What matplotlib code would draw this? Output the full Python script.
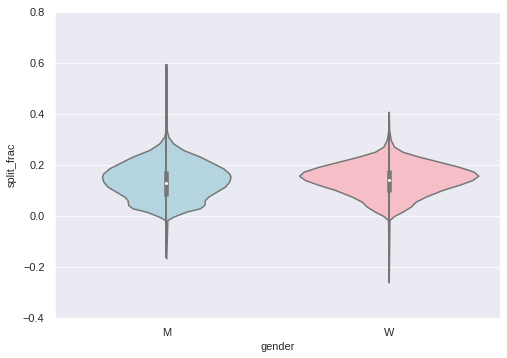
import numpy as np
import matplotlib
matplotlib.use("Agg")
import matplotlib.pyplot as plt
import seaborn as sns

# categories and colors
genders = ["M", "W"]
palette = ["lightblue", "lightpink"]

# violin outline: split_frac value -> half width (data units)
m_vals = [0.596, 0.337, 0.311, 0.285, 0.259, 0.233, 0.207, 0.187, 0.167, 0.154,
          0.135, 0.115, 0.095, 0.076, 0.063, 0.043, 0.030, 0.017, -0.003, -0.016, -0.166]
m_half = [0.0, 0.002, 0.009, 0.031, 0.076, 0.151, 0.211, 0.256, 0.283, 0.289,
          0.283, 0.264, 0.225, 0.189, 0.174, 0.171, 0.151, 0.090, 0.031, 0.005, 0.0]

w_vals = [0.409, 0.337, 0.298, 0.272, 0.252, 0.233, 0.213, 0.193, 0.174, 0.158,
          0.141, 0.122, 0.102, 0.076, 0.056, 0.037, 0.017, 0.000, -0.016, -0.260]
w_half = [0.0, 0.002, 0.009, 0.024, 0.062, 0.135, 0.225, 0.315, 0.382, 0.403,
          0.376, 0.315, 0.241, 0.166, 0.121, 0.099, 0.062, 0.024, 0.003, 0.0]

# inner box: whisker low, q1, median, q3, whisker high
m_box = [-0.166, 0.078, 0.130, 0.176, 0.596]
w_box = [-0.260, 0.095, 0.140, 0.180, 0.409]

sns.set_style("darkgrid")
plt.rcParams["font.family"] = ["Liberation Sans", "DejaVu Sans"]

fig = plt.figure(figsize=(507 / 72, 358 / 72), dpi=72)
ax = fig.add_axes([55 / 507, 40 / 358, 445 / 507, 306 / 358])

gray = "#767676"
outlines = [(m_vals, m_half), (w_vals, w_half)]
boxes = [m_box, w_box]
for i in range(len(genders)):
    vals, half = outlines[i]
    vals = np.array(vals)
    half = np.array(half)
    ax.fill_betweenx(vals, i - half, i + half,
                     facecolor=sns.desaturate(palette[i], 0.75),
                     edgecolor=gray, linewidth=1.5, zorder=2)
    lo, q1, med, q3, hi = boxes[i]
    ax.plot([i, i], [lo, hi], color=gray, linewidth=2.0, zorder=3,
            solid_capstyle="butt")
    ax.plot([i, i], [q1, q3], color=gray, linewidth=4.5, zorder=3,
            solid_capstyle="butt")
    ax.scatter([i], [med], color="white", s=9, zorder=4, linewidth=0)

ax.set_xlim(-0.5, 1.5)
ax.set_ylim(-0.4, 0.8)
ax.set_xticks(range(len(genders)))
ax.set_xticklabels(genders)
ax.set_yticks(np.arange(-0.4, 0.81, 0.2))
ax.set_yticklabels(["\u22120.4", "\u22120.2", "0.0", "0.2", "0.4", "0.6", "0.8"])
ax.xaxis.grid(False)
ax.tick_params(labelsize=11, colors="#262626", pad=7)
ax.set_xlabel("gender", fontsize=11, color="#262626", labelpad=4)
ax.set_ylabel("split_frac", fontsize=11, color="#262626", labelpad=6)

fig.savefig("out.png", dpi=72)
